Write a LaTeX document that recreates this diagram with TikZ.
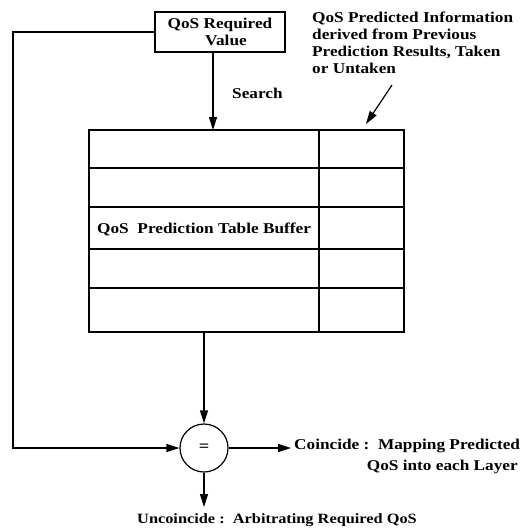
\documentclass[tikz,border=0pt]{standalone}
\usepackage{fontspec}
\setmainfont{Liberation Serif}[FakeStretch=1.15]
\usetikzlibrary{arrows.meta}
\begin{document}
\begin{tikzpicture}[x=1pt,y=-1pt,
  line/.style={line width=1.2pt},
  arr/.style={line, -{Triangle[length=13pt,width=8pt]}},
  lbl/.style={font=\bfseries\fontsize{15}{16}\selectfont, inner sep=0pt}]
\useasboundingbox (0,0) rectangle (521,531);
% required value box
\node[draw, line width=1.2pt, minimum width=130pt, minimum height=40pt, inner sep=0pt, align=center,
  font=\bfseries\fontsize{15}{17}\selectfont] (req) at (220,32) {QoS Required\\ \hspace*{12pt}Value};
% table
\foreach \i/\ya/\yb in {1/130/168,2/168/207,3/207/249,4/249/288,5/288/332}{
  \draw[line] (89,\ya) rectangle (319,\yb);
  \draw[line] (319,\ya) rectangle (404,\yb);
  \coordinate (rowl\i) at (89,\ya);
}
\node[lbl, anchor=west] (buf) at (97,229) {QoS\ \ Prediction Table Buffer};
\coordinate (tabtop) at (213,130);
\coordinate (tabbot) at (204,332);
% compare circle
\node[draw, line width=1.2pt, circle, minimum size=48pt, inner sep=0pt, font=\bfseries\fontsize{16}{16}\selectfont] (eq) at (204,448) {=};
% search arrow
\draw[arr] (req.south -| tabtop) -- (tabtop);
\node[lbl, anchor=west] (search) at (232,93) {Search};
% table to compare
\draw[arr] (tabbot) -- (eq.north);
% left feedback
\coordinate (lt) at (13,32);
\coordinate (lb) at (13,448);
\draw[arr] (req.west) -- (lt) -- (lb) -- (eq.west);
% coincide
\coordinate (coe) at (291,448);
\draw[arr] (eq.east) -- (coe);
\node[lbl, anchor=west] (coin) at (294,446) {Coincide :\ \ Mapping Predicted};
\node[lbl, anchor=east] (coin2) at (518,467) {QoS into each Layer};
% uncoincide
\coordinate (une) at (204,507);
\draw[arr] (eq.south) -- (une);
\node[lbl, font=\bfseries\fontsize{14.2}{16}\selectfont] (unco) at (277,520) {Uncoincide :\ \ Arbitrating Required QoS};
% info
\node[lbl, anchor=north west, align=left, font=\bfseries\fontsize{15}{17}\selectfont] (info) at (312,12)
  {QoS Predicted Information\\derived from Previous\\Prediction Results, Taken\\or Untaken};
\coordinate (infoa) at (392,85);
\coordinate (infob) at (366,124);
\draw[arr] (infoa) -- (infob);
\end{tikzpicture}
\end{document}
